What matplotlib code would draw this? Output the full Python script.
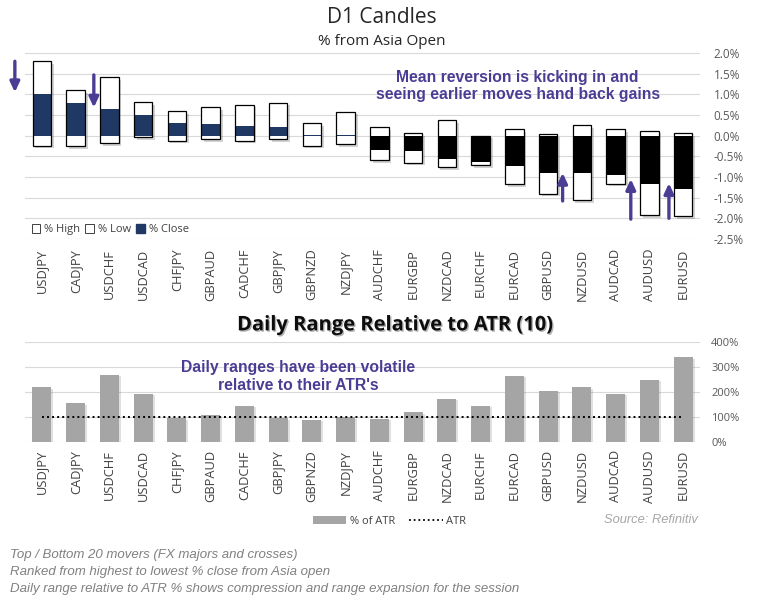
import matplotlib
matplotlib.use('Agg')
import matplotlib.pyplot as plt
import matplotlib.patheffects as pe
from matplotlib.patches import Patch
from matplotlib.lines import Line2D
from matplotlib.ticker import FuncFormatter

plt.rcParams['font.family'] = ['Open Sans', 'DejaVu Sans']

# pairs ranked from highest to lowest % close from Asia open
pairs = ['USDJPY', 'CADJPY', 'USDCHF', 'USDCAD', 'CHFJPY', 'GBPAUD', 'CADCHF',
         'GBPJPY', 'GBPNZD', 'NZDJPY', 'AUDCHF', 'EURGBP', 'NZDCAD', 'EURCHF',
         'EURCAD', 'GBPUSD', 'NZDUSD', 'AUDCAD', 'AUDUSD', 'EURUSD']

# % from Asia open
pct_high = [1.80, 1.10, 1.41, 0.82, 0.60, 0.70, 0.75, 0.80, 0.31, 0.58,
            0.21, 0.07, 0.37, 0.00, 0.15, 0.04, 0.25, 0.15, 0.12, 0.06]
pct_low = [-0.24, -0.26, -0.18, -0.03, -0.12, -0.08, -0.12, -0.08, -0.24, -0.21,
           -0.59, -0.65, -0.76, -0.71, -1.18, -1.40, -1.55, -1.16, -1.93, -1.95]
pct_close = [1.02, 0.78, 0.65, 0.50, 0.31, 0.29, 0.24, 0.21, 0.02, 0.02,
             -0.34, -0.38, -0.57, -0.63, -0.73, -0.91, -0.91, -0.94, -1.16, -1.28]

# daily range as % of ATR(10)
pct_of_atr = [219, 155, 268, 192, 94, 107, 144, 94, 87, 98,
              91, 119, 172, 144, 264, 204, 219, 192, 248, 340]
atr_level = 100

purple = '#4B3C94'
navy = '#1F3864'
grey_bar = '#A5A5A5'
grid_col = '#D9D9D9'
tick_col = '#595959'

fig = plt.figure(figsize=(7.64, 6.15), dpi=100)

x = list(range(len(pairs)))
shadow = [pe.SimplePatchShadow(offset=(2, -2), alpha=0.25), pe.Normal()]

# ---- top chart: D1 candles
ax = fig.add_axes([0.0327, 0.6114, 0.8835, 0.3024])
rng = [h - l for h, l in zip(pct_high, pct_low)]
boxes = ax.bar(x, rng, bottom=pct_low, width=0.55, color='white',
               edgecolor='none', zorder=2)
for b in boxes:
    b.set_path_effects(shadow)
close_cols = [navy if c > 0 else 'black' for c in pct_close]
ax.bar(x, pct_close, width=0.55, color=close_cols, zorder=3)
ax.bar(x, rng, bottom=pct_low, width=0.55, fill=False,
       edgecolor='black', linewidth=0.9, zorder=4)

ax.set_xlim(-0.5, len(pairs) - 0.5)
ax.set_ylim(-2.5, 2.0)
ax.set_yticks([v / 2 for v in range(-5, 5)])
ax.yaxis.tick_right()
ax.yaxis.set_major_formatter(FuncFormatter(lambda v, p: f'{v:.1f}%'))
ax.set_xticks(x)
ax.set_xticklabels(pairs, rotation=90)
ax.tick_params(length=0, labelsize=8.5, colors=tick_col)
ax.tick_params(axis='x', pad=7, labelsize=9.3, labelcolor='#404040')
ax.tick_params(axis='y', pad=10)
ax.grid(axis='y', color=grid_col, linewidth=0.8, zorder=0)
ax.set_axisbelow(True)
for s in ax.spines.values():
    s.set_visible(False)

ax.legend(handles=[Patch(fc='white', ec='#404040', lw=0.7),
                   Patch(fc='white', ec='#404040', lw=0.7),
                   Patch(fc=navy, ec=navy)],
          labels=['% High', '% Low', '% Close'], ncol=3, frameon=False,
          loc='lower left', bbox_to_anchor=(-0.005, -0.035), fontsize=8,
          handlelength=0.8, handleheight=0.8, handletextpad=0.3,
          columnspacing=0.5, labelcolor='#404040')

ax.text(14.1, 1.20, 'Mean reversion is kicking in and\nseeing earlier moves hand back gains',
        ha='center', va='center', fontsize=11.3, fontweight='bold',
        color=purple, family='Liberation Sans', linespacing=1.2, zorder=5)

arrows = [((-0.8, 1.80), (-0.8, 1.05)), ((1.54, 1.47), (1.54, 0.68)),
          ((15.43, -1.58), (15.43, -0.90)), ((17.45, -2.02), (17.45, -1.05)),
          ((18.58, -2.00), (18.58, -1.15))]
for start, end in arrows:
    ax.annotate('', xy=end, xytext=start, annotation_clip=False,
                arrowprops=dict(arrowstyle='-|>,head_length=0.6,head_width=0.28',
                                color=purple, lw=2.4, shrinkA=0, shrinkB=0),
                zorder=6)

fig.text(0.5, 0.971, 'D1 Candles', ha='center', va='center', fontsize=15,
         color='#262626')
fig.text(0.5, 0.932, '% from Asia Open', ha='center', va='center', fontsize=11,
         color='#262626')

# ---- bottom chart: daily range relative to ATR
ax2 = fig.add_axes([0.0327, 0.2818, 0.8835, 0.1616])
bars = ax2.bar(x, pct_of_atr, width=0.56, color=grey_bar, zorder=2)
for b in bars:
    b.set_path_effects([pe.SimplePatchShadow(offset=(1.5, -1), alpha=0.15), pe.Normal()])
ax2.plot([x[0], x[-1]], [atr_level, atr_level], color='black', ls=(0, (1, 1.6)),
         lw=1.4, zorder=3)
ax2.set_xlim(-0.5, len(pairs) - 0.5)
ax2.set_ylim(0, 400)
ax2.set_yticks([0, 100, 200, 300, 400])
ax2.yaxis.tick_right()
ax2.yaxis.set_major_formatter(FuncFormatter(lambda v, p: f'{v:.0f}%'))
ax2.set_xticks(x)
ax2.set_xticklabels(pairs, rotation=90)
ax2.tick_params(length=0, labelsize=8.5, colors=tick_col)
ax2.tick_params(axis='x', pad=6, labelsize=9.3, labelcolor='#404040')
ax2.tick_params(axis='y', pad=8, labelsize=8)
ax2.grid(axis='y', color=grid_col, linewidth=0.8, zorder=0)
ax2.set_axisbelow(True)
for s in ax2.spines.values():
    s.set_visible(False)

ax2.text(7.6, 262, "Daily ranges have been volatile\nrelative to their ATR's",
         ha='center', va='center', fontsize=11.3, fontweight='bold',
         color=purple, family='Liberation Sans', linespacing=1.2, zorder=5)

fig.text(0.517, 0.471, 'Daily Range Relative to ATR (10)', ha='center',
         va='center', fontsize=14.5, fontweight='bold', color='#0d0d0d',
         path_effects=[pe.withSimplePatchShadow(offset=(1, -1), alpha=0.3)])

fig.legend(handles=[Patch(fc=grey_bar, ec='none'),
                    Line2D([], [], color='black', ls=(0, (1, 1.6)), lw=1.3)],
           labels=['% of ATR', 'ATR'], ncol=2, frameon=False, loc='center',
           bbox_to_anchor=(0.51, 1 - 521 / 615), fontsize=8,
           handlelength=3.0, handleheight=0.7, handletextpad=0.3,
           columnspacing=1.3, labelcolor='#404040')

fig.text(0.913, 1 - 520 / 615, 'Source: Refinitiv', ha='right', va='center',
         fontsize=9.3, style='italic', color='#A6A6A6', family='Liberation Sans')

notes = ['Top / Bottom 20 movers (FX majors and crosses)',
         'Ranked from highest to lowest % close from Asia open',
         'Daily range relative to ATR % shows compression and range expansion for the session']
for i, line in enumerate(notes):
    fig.text(0.013, 1 - (555 + 17 * i) / 615, line, ha='left', va='center',
             fontsize=9.5, style='italic', color='#808080', family='Liberation Sans')

fig.savefig('out.png', dpi=100, facecolor='white')
